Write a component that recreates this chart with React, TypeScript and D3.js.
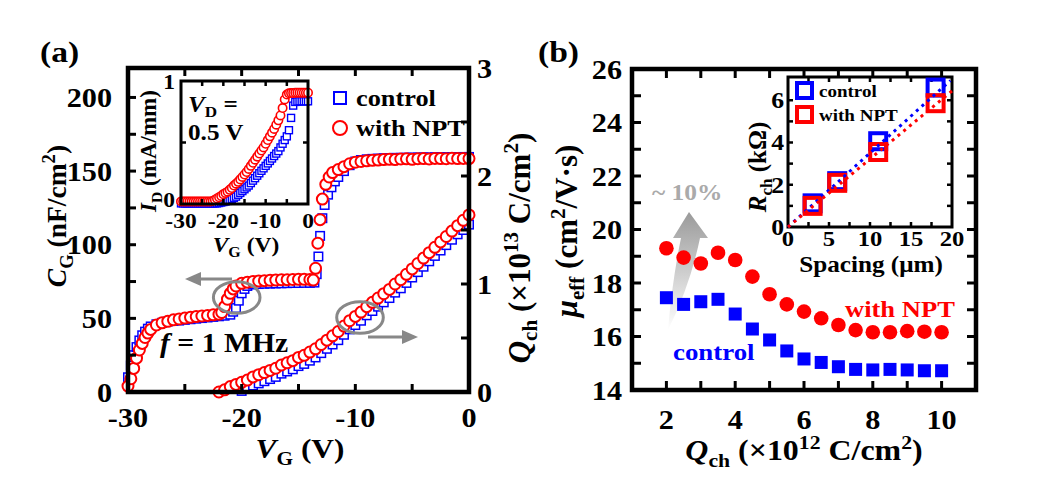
// @ts-nocheck
import React, { useEffect, useRef } from 'react';
import * as d3 from 'd3';

const W = 1037, H = 494;
const FONT = '"Liberation Serif", "Times New Roman", serif';
const SX = 1.12; // the source text is a bit wider than Times
const RED = '#ff0000', BLUE = '#0000ff', GRAY = '#888888';

/* (a) C-V, left axis, nF/cm2 */
const cvControl = [[-30,10],[-29.75,18],[-29.5,25],[-29.25,30.5],[-29,35],[-28.75,38.5],[-28.5,41],[-28.25,43],[-28,44.5],[-27.5,46],[-27,47],[-26.5,47.8],[-26,48.3],[-25.5,48.5],[-25,49],[-24.5,49.4],[-24,49.8],[-23.5,50.2],[-23,50.6],[-22.5,51],[-22,51.4],[-21.5,51.8],[-21,52.5],[-20.75,54.5],[-20.5,57],[-20.25,62],[-20,67],[-19.75,70],[-19.5,72],[-19,73],[-18.5,73.3],[-18,73.5],[-17.5,73.6],[-17,73.7],[-16.5,73.8],[-16,73.9],[-15.5,74],[-15,74],[-14.5,74.1],[-14,74.1],[-13.6,74.3],[-13.4,80],[-13.25,92],[-13.1,106],[-12.9,118],[-12.7,127],[-12.4,134],[-12.1,139],[-11.8,143],[-11.5,146],[-11,150],[-10.5,154],[-10,156.5],[-9.5,157.5],[-9,158],[-8.5,158.3],[-8,158.5],[-7.5,158.7],[-7,158.8],[-6.5,159],[-6,159],[-5.5,159.1],[-5,159.2],[-4.5,159.2],[-4,159.3],[-3.5,159.3],[-3,159.4],[-2.5,159.4],[-2,159.5],[-1.5,159.5],[-1,159.5],[-0.5,159.6],[0,159.6]];
const cvNPT = [[-30,4],[-29.75,9],[-29.5,16],[-29.25,23],[-29,28.5],[-28.75,33],[-28.5,37],[-28.25,40],[-28,42.5],[-27.5,45.5],[-27,47],[-26.5,48],[-26,49],[-25.5,49.6],[-25,50.2],[-24.5,50.7],[-24,51.2],[-23.5,51.6],[-23,52],[-22.5,52.4],[-22,52.8],[-21.75,54],[-21.5,58],[-21.25,63],[-21,67],[-20.75,70],[-20.5,72],[-20,73.8],[-19.5,74.6],[-19,75],[-18.5,75.3],[-18,75.6],[-17.5,75.8],[-17,76],[-16.5,76.2],[-16,76.3],[-15.5,76.4],[-15,76.5],[-14.5,76.5],[-14,76.4],[-13.7,76],[-13.5,84],[-13.3,101],[-13.1,117],[-12.9,131],[-12.6,141],[-12.3,146],[-12,149],[-11.5,151],[-11,153],[-10.5,155],[-10,156],[-9.5,156.5],[-9,157],[-8.5,157.3],[-8,157.5],[-7.5,157.8],[-7,158],[-6.5,157.8],[-6,158.2],[-5.5,158.3],[-5,158],[-4.5,158.4],[-4,158.5],[-3.5,158.2],[-3,158.6],[-2.5,158.5],[-2,158.4],[-1.5,158.7],[-1,158.5],[-0.5,158.6],[0,158.5]];

/* (a) Q-V, right axis, x10^13 C/cm2 */
const qvControl = [[-20,0.01],[-19.5,0.03],[-19,0.06],[-18.5,0.08],[-18,0.1],[-17.5,0.12],[-17,0.14],[-16.5,0.17],[-16,0.19],[-15.5,0.21],[-15,0.24],[-14.5,0.26],[-14,0.29],[-13.5,0.32],[-13,0.36],[-12.5,0.4],[-12,0.44],[-11.5,0.48],[-11,0.53],[-10.5,0.58],[-10,0.62],[-9.5,0.66],[-9,0.71],[-8.5,0.75],[-8,0.79],[-7.5,0.83],[-7,0.87],[-6.5,0.92],[-6,0.96],[-5.5,1.01],[-5,1.06],[-4.5,1.11],[-4,1.16],[-3.5,1.21],[-3,1.26],[-2.5,1.31],[-2,1.36],[-1.5,1.41],[-1,1.46],[-0.5,1.5],[0,1.55]];
const qvNPT = [[-22,0],[-21.5,0.02],[-21,0.05],[-20.5,0.07],[-20,0.09],[-19.5,0.11],[-19,0.14],[-18.5,0.16],[-18,0.18],[-17.5,0.2],[-17,0.22],[-16.5,0.25],[-16,0.27],[-15.5,0.29],[-15,0.32],[-14.5,0.34],[-14,0.37],[-13.5,0.4],[-13,0.44],[-12.5,0.48],[-12,0.52],[-11.5,0.56],[-11,0.61],[-10.5,0.66],[-10,0.7],[-9.5,0.74],[-9,0.79],[-8.5,0.83],[-8,0.87],[-7.5,0.91],[-7,0.95],[-6.5,1],[-6,1.04],[-5.5,1.09],[-5,1.14],[-4.5,1.19],[-4,1.24],[-3.5,1.29],[-3,1.34],[-2.5,1.39],[-2,1.44],[-1.5,1.49],[-1,1.54],[-0.5,1.59],[0,1.64]];

/* (a) inset, ID (mA/mm) vs VG */
const idControl = [[-30,0.005],[-29.5,0.005],[-29,0.005],[-28.5,0.005],[-28,0.005],[-27.5,0.005],[-27,0.005],[-26.5,0.005],[-26,0.005],[-25.5,0.005],[-25,0.005],[-24.5,0.005],[-24,0.005],[-23.5,0.005],[-23,0.005],[-22.5,0.005],[-22,0.005],[-21.5,0.005],[-21,0.008],[-20.5,0.012],[-20,0.016],[-19.5,0.02],[-19,0.025],[-18.5,0.03],[-18,0.04],[-17.5,0.05],[-17,0.06],[-16.5,0.075],[-16,0.09],[-15.5,0.105],[-15,0.12],[-14.5,0.135],[-14,0.15],[-13.5,0.17],[-13,0.19],[-12.5,0.21],[-12,0.23],[-11.5,0.25],[-11,0.27],[-10.5,0.29],[-10,0.31],[-9.5,0.33],[-9,0.35],[-8.5,0.37],[-8,0.39],[-7.5,0.41],[-7,0.43],[-6.5,0.46],[-6,0.49],[-5.5,0.52],[-5,0.55],[-4.5,0.6],[-4,0.7],[-3.5,0.8],[-3,0.83],[-2.5,0.833],[-2,0.835],[-1.5,0.835],[-1,0.835],[-0.5,0.835],[0,0.835]];
const idNPT = [[-30,0.02],[-29.5,0.02],[-29,0.02],[-28.5,0.02],[-28,0.02],[-27.5,0.02],[-27,0.02],[-26.5,0.02],[-26,0.02],[-25.5,0.02],[-25,0.02],[-24.5,0.02],[-24,0.02],[-23.5,0.02],[-23,0.02],[-22.5,0.025],[-22,0.035],[-21.5,0.045],[-21,0.055],[-20.5,0.065],[-20,0.08],[-19.5,0.09],[-19,0.1],[-18.5,0.115],[-18,0.13],[-17.5,0.15],[-17,0.165],[-16.5,0.18],[-16,0.2],[-15.5,0.22],[-15,0.24],[-14.5,0.26],[-14,0.285],[-13.5,0.31],[-13,0.335],[-12.5,0.36],[-12,0.385],[-11.5,0.41],[-11,0.435],[-10.5,0.46],[-10,0.49],[-9.5,0.52],[-9,0.55],[-8.5,0.58],[-8,0.61],[-7.5,0.645],[-7,0.68],[-6.5,0.72],[-6,0.78],[-5.5,0.85],[-5,0.89],[-4.5,0.9],[-4,0.902],[-3.5,0.903],[-3,0.904],[-2.5,0.905],[-2,0.905],[-1.5,0.905],[-1,0.905],[-0.5,0.905],[0,0.905]];

/* (b) mobility vs Qch (x10^12 C/cm2) */
const qch = [2, 2.5, 3, 3.5, 4, 4.5, 5, 5.5, 6, 6.5, 7, 7.5, 8, 8.5, 9, 9.5, 10];
const muControl = [17.45, 17.2, 17.3, 17.39, 16.84, 16.28, 15.87, 15.46, 15.16, 15.03, 14.87, 14.77, 14.75, 14.77, 14.75, 14.72, 14.72];
const muNPT = [19.3, 18.95, 18.73, 19.13, 18.86, 18.24, 17.58, 17.2, 16.93, 16.68, 16.43, 16.24, 16.16, 16.16, 16.2, 16.18, 16.16];

/* (b) inset, TLM */
const spacing = [3, 6, 11, 18];
const rchControl = [1.12, 2.17, 4.06, 6.6];
const rchNPT = [1.0, 2.09, 3.55, 5.86];
const fitSlope = { control: 0.35, npt: 0.322 };

function label(g, x, y, parts, size, o: any = {}) {
  const sx = o.sx ?? SX;
  const tr = `translate(${x},${y}) scale(${sx},1)` + (o.rotate ? ` rotate(${o.rotate})` : '');
  const t = g.append('text')
    .attr('transform', tr)
    .attr('font-family', FONT)
    .attr('font-size', size)
    .attr('font-weight', 'bold')
    .attr('text-anchor', o.anchor || 'start')
    .attr('fill', o.fill || '#000')
    .style('white-space', 'pre');
  if (typeof parts === 'string') parts = [{ t: parts }];
  let cur = 0;
  for (const p of parts) {
    const target = p.sub ? size * 0.24 : p.sup ? -size * 0.4 : 0;
    const ts = t.append('tspan').text(p.t);
    if (target !== cur) ts.attr('dy', target - cur);
    cur = target;
    if (p.sub || p.sup) ts.attr('font-size', size * 0.68);
    if (p.i) ts.attr('font-style', 'italic');
  }
  return t;
}

// inward ticks on all four sides of a frame
function ticks(g, x, y, xv, yv, len, sw, yRight?, yvRight?) {
  const [x0, x1] = x.range(), [y0, y1] = y.range();
  const s = g.append('g').attr('stroke', '#000').attr('stroke-width', sw);
  xv.forEach(v => {
    s.append('line').attr('x1', x(v)).attr('x2', x(v)).attr('y1', y0).attr('y2', y0 - len);
    s.append('line').attr('x1', x(v)).attr('x2', x(v)).attr('y1', y1).attr('y2', y1 + len);
  });
  yv.forEach(v => {
    s.append('line').attr('x1', x0).attr('x2', x0 + len).attr('y1', y(v)).attr('y2', y(v));
    if (!yRight) s.append('line').attr('x1', x1).attr('x2', x1 - len).attr('y1', y(v)).attr('y2', y(v));
  });
  if (yRight) yvRight.forEach(v => {
    s.append('line').attr('x1', x1).attr('x2', x1 - len).attr('y1', yRight(v)).attr('y2', yRight(v));
  });
}

function frame(g, x, y, sw) {
  const [x0, x1] = x.range(), [y0, y1] = y.range();
  g.append('rect').attr('x', x0).attr('y', y1).attr('width', x1 - x0).attr('height', y0 - y1)
    .attr('fill', 'none').attr('stroke', '#000').attr('stroke-width', sw);
}

function squares(g, data, x, y, size, color, sw, fill = '#fff') {
  g.append('g').selectAll('rect').data(data).join('rect')
    .attr('x', d => x(d[0]) - size / 2).attr('y', d => y(d[1]) - size / 2)
    .attr('width', size).attr('height', size)
    .attr('fill', fill).attr('stroke', color).attr('stroke-width', sw);
}

function circles(g, data, x, y, r, color, sw, fill = '#fff') {
  g.append('g').selectAll('circle').data(data).join('circle')
    .attr('cx', d => x(d[0])).attr('cy', d => y(d[1])).attr('r', r)
    .attr('fill', fill).attr('stroke', color).attr('stroke-width', sw);
}

function arrow(g, xa, xb, yy, color) {
  const dir = Math.sign(xb - xa);
  g.append('line').attr('x1', xa).attr('x2', xb - dir * 12).attr('y1', yy).attr('y2', yy)
    .attr('stroke', color).attr('stroke-width', 3);
  g.append('path').attr('d', `M${xb},${yy} L${xb - dir * 16},${yy - 7} L${xb - dir * 16},${yy + 7} Z`).attr('fill', color);
}

function drawA(svg) {
  const g = svg.append('g');
  const x = d3.scaleLinear().domain([-30, 0]).range([128, 469]);
  const yC = d3.scaleLinear().domain([0, 220]).range([392, 68]);
  const yQ = d3.scaleLinear().domain([0, 3]).range([392, 68]);

  squares(g, cvControl, x, yC, 8.5, BLUE, 1.5);
  squares(g, qvControl, x, yQ, 8.5, BLUE, 1.5);
  circles(g, cvNPT, x, yC, 5.5, RED, 2);
  circles(g, qvNPT, x, yQ, 5.5, RED, 2);

  frame(g, x, yC, 4.5);
  ticks(g, x, yC, d3.range(-25, 0, 5), d3.range(25, 220, 25), 8, 3, yQ, d3.range(0.5, 3, 0.5));

  yC.ticks(5).forEach(v => label(g, 112, yC(v) + 9.5, String(v), 27, { anchor: 'end' }));
  [0, 1, 2, 3].forEach(v => label(g, 477, yQ(v) + 9.5, String(v), 27));
  [-30, -20, -10, 0].forEach(v => label(g, x(v), 427, String(v), 27, { anchor: 'middle' }));

  label(g, 300, 458, [{ t: 'V', i: true }, { t: 'G', sub: true }, { t: ' (V)' }], 28, { anchor: 'middle' });
  label(g, 66, 216, [{ t: 'C', i: true }, { t: 'G', sub: true }, { t: ' (nF/cm' }, { t: '2', sup: true }, { t: ')' }], 27.5, { anchor: 'middle', rotate: -90, sx: 1 });
  label(g, 530, 248, [{ t: 'Q', i: true }, { t: 'ch', sub: true }, { t: ' (×10' }, { t: '13', sup: true }, { t: ' C/cm' }, { t: '2', sup: true }, { t: ')' }], 31, { anchor: 'middle', rotate: -90, sx: 1 });
  label(g, 40, 62, '(a)', 30);

  // legend
  g.append('rect').attr('x', 334).attr('y', 92).attr('width', 12).attr('height', 12).attr('fill', '#fff').attr('stroke', BLUE).attr('stroke-width', 2);
  g.append('circle').attr('cx', 340).attr('cy', 128).attr('r', 7).attr('fill', '#fff').attr('stroke', RED).attr('stroke-width', 2);
  label(g, 356, 106, 'control', 23.5);
  label(g, 356, 136, 'with NPT', 23.5);

  label(g, 160, 352, [{ t: 'f', i: true }, { t: ' = 1 MHz' }], 26.5);

  // grey guides
  g.append('ellipse').attr('cx', 236.7).attr('cy', 297.5).attr('rx', 23.3).attr('ry', 15.8).attr('fill', 'none').attr('stroke', GRAY).attr('stroke-width', 3);
  g.append('ellipse').attr('cx', 360).attr('cy', 317.5).attr('rx', 23.3).attr('ry', 15.8).attr('fill', 'none').attr('stroke', GRAY).attr('stroke-width', 3);
  arrow(g, 232, 185, 279, GRAY);
  arrow(g, 368, 418, 337, GRAY);

  // inset
  const ix = d3.scaleLinear().domain([-30, 0]).range([181, 308]);
  const iy = d3.scaleLinear().domain([0, 1]).range([204, 81]);
  g.append('rect').attr('x', 181).attr('y', 81).attr('width', 127).attr('height', 123).attr('fill', '#fff');
  squares(g, idControl, ix, iy, 7, BLUE, 1.4);
  circles(g, idNPT, ix, iy, 4.2, RED, 1.6);
  frame(g, ix, iy, 3);
  ticks(g, ix, iy, d3.range(-25, 0, 5), [0.5], 5, 2.5);
  label(g, 175, iy(1) + 8, '1', 21, { anchor: 'end' });
  label(g, 175, iy(0) + 3, '0', 21, { anchor: 'end' });
  [-30, -20, -10, 0].forEach(v => label(g, ix(v), 228, String(v), 21, { anchor: 'middle' }));
  label(g, 246, 252, [{ t: 'V', i: true }, { t: 'G', sub: true }, { t: ' (V)' }], 21, { anchor: 'middle' });
  label(g, 156, 151, [{ t: 'I', i: true }, { t: 'D', sub: true }, { t: ' (mA/mm)' }], 23, { anchor: 'middle', rotate: -90, sx: 1 });
  label(g, 188, 112, [{ t: 'V', i: true }, { t: 'D', sub: true }, { t: ' =' }], 22.5);
  label(g, 188, 140, '0.5 V', 22.5);
}

function drawB(svg) {
  const g = svg.append('g');
  const x = d3.scaleLinear().domain([1, 11]).range([632, 976]);
  const y = d3.scaleLinear().domain([14, 26]).range([390, 69]);

  // gradient arrow
  const grad = svg.append('defs').append('linearGradient').attr('id', 'garr')
    .attr('x1', 0).attr('y1', 1).attr('x2', 0).attr('y2', 0);
  grad.append('stop').attr('offset', '0%').attr('stop-color', '#ffffff');
  grad.append('stop').attr('offset', '100%').attr('stop-color', '#9a9a9a');
  g.append('path')
    .attr('d', 'M668,330 Q672,282 681,238 L673,238 L689,212 L708,238 L700,238 Q690,286 668,330 Z')
    .attr('fill', 'url(#garr)');

  const pts = (v) => qch.map((q, i) => [q, v[i]]);
  squares(g, pts(muControl), x, y, 13, BLUE, 0, BLUE);
  circles(g, pts(muNPT), x, y, 7.3, RED, 0, RED);

  frame(g, x, y, 4.5);
  ticks(g, x, y, d3.range(2, 11, 1), d3.range(15, 26, 1), 9, 3);
  d3.range(14, 27, 2).forEach(v => label(g, 622, y(v) + 9.5, String(v), 27, { anchor: 'end' }));
  d3.range(2, 11, 2).forEach(v => label(g, x(v), 429, String(v), 27, { anchor: 'middle' }));

  label(g, 804, 460, [{ t: 'Q', i: true }, { t: 'ch', sub: true }, { t: ' (×10' }, { t: '12', sup: true }, { t: ' C/cm' }, { t: '2', sup: true }, { t: ')' }], 28.5, { anchor: 'middle' });
  label(g, 577, 231, [{ t: 'μ', i: true }, { t: 'eff', sub: true }, { t: ' (cm' }, { t: '2', sup: true }, { t: '/V·s)' }], 31, { anchor: 'middle', rotate: -90, sx: 1 });
  label(g, 538, 62, '(b)', 30);

  label(g, 845, 317, 'with NPT', 23.7, { fill: RED });
  label(g, 673, 360, 'control', 24, { fill: BLUE });
  label(g, 652, 200, '~ 10%', 22.7, { fill: '#aaaaaa' });

  // inset TLM
  const ix = d3.scaleLinear().domain([0, 20]).range([788, 952]);
  const iy = d3.scaleLinear().domain([0, 7.1]).range([227, 77]);
  frame(g, ix, iy, 3);
  ticks(g, ix, iy, d3.range(2.5, 20, 2.5), d3.range(1, 7, 1), 5, 2.5);
  [0, 2, 4, 6].forEach(v => label(g, 784, iy(v) + 8, String(v), 23, { anchor: 'end' }));
  [0, 5, 10, 15, 20].forEach(v => label(g, ix(v), 246, String(v), 22, { anchor: 'middle' }));
  label(g, 871, 272, 'Spacing (μm)', 22.5, { anchor: 'middle' });
  label(g, 766, 167, [{ t: 'R', i: true }, { t: 'ch', sub: true }, { t: ' (kΩ)' }], 25, { anchor: 'middle', rotate: -90, sx: 1 });

  const tl = (v) => spacing.map((s, i) => [s, v[i]]);
  squares(g, tl(rchControl), ix, iy, 16, BLUE, 4, 'none');
  squares(g, tl(rchNPT), ix, iy, 16, RED, 4, 'none');
  const fit = (k, color, xEnd) => g.append('line')
    .attr('x1', ix(0)).attr('y1', iy(0)).attr('x2', ix(xEnd)).attr('y2', iy(k * xEnd))
    .attr('stroke', color).attr('stroke-width', 3).attr('stroke-dasharray', '3 4.5');
  fit(fitSlope.control, BLUE, 19.8);
  fit(fitSlope.npt, RED, 20);

  g.append('rect').attr('x', 797).attr('y', 83).attr('width', 15).attr('height', 15).attr('fill', 'none').attr('stroke', BLUE).attr('stroke-width', 4);
  g.append('rect').attr('x', 797).attr('y', 107).attr('width', 15).attr('height', 15).attr('fill', 'none').attr('stroke', RED).attr('stroke-width', 4);
  label(g, 819, 97, 'control', 17);
  label(g, 819, 121, 'with NPT', 17);
}

export default function App() {
  const ref = useRef(null);
  useEffect(() => {
    const svg = d3.select(ref.current);
    svg.selectAll('*').remove();
    svg.append('rect').attr('width', W).attr('height', H).attr('fill', '#fff');
    drawA(svg);
    drawB(svg);
  }, []);
  return <svg ref={ref} width={W} height={H} style={{ position: 'absolute', left: 0, top: 0 }} />;
}
